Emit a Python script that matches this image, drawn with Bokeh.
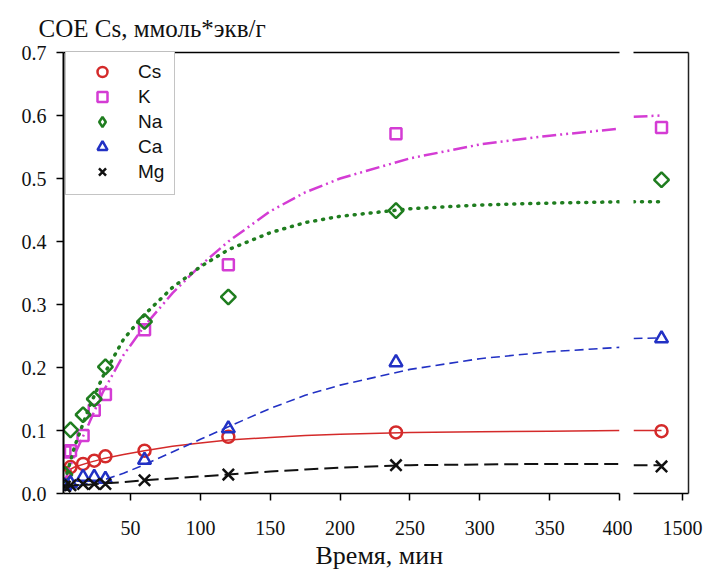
import math
from bokeh.plotting import figure
from bokeh.models import (LinearAxis, FixedTicker, PrintfTickFormatter, Legend,
                          LegendItem, Title, Range1d)
from bokeh.layouts import row
from bokeh.embed import file_html
from bokeh.resources import INLINE

# ---------------- data ----------------
time_min = [3, 7, 16, 24, 32, 60, 120, 240, 1440]
cs = [0.033, 0.042, 0.047, 0.052, 0.059, 0.068, 0.090, 0.097, 0.099]
k  = [0.066, 0.068, 0.092, 0.132, 0.157, 0.260, 0.363, 0.571, 0.581]
na = [0.030, 0.101, 0.125, 0.150, 0.201, 0.273, 0.312, 0.449, 0.498]
ca = [0.012, 0.016, 0.026, 0.026, 0.023, 0.053, 0.103, 0.208, 0.246]
mg = [0.011, 0.013, 0.015, 0.015, 0.015, 0.021, 0.030, 0.045, 0.043]

# fitted curves
fit_t  = [3, 10, 20, 30, 45, 60, 80, 100, 120, 150, 175, 200, 250, 300, 350, 400]
fit_cs = [0.034, 0.042, 0.049, 0.055, 0.062, 0.068, 0.075, 0.080, 0.085, 0.089, 0.092, 0.094, 0.097, 0.098, 0.099, 0.100]
fit_k  = [0.020, 0.062, 0.110, 0.160, 0.220, 0.266, 0.318, 0.362, 0.400, 0.448, 0.478, 0.500, 0.532, 0.554, 0.568, 0.579]
fit_na = [0.020, 0.075, 0.135, 0.185, 0.245, 0.284, 0.327, 0.360, 0.387, 0.414, 0.430, 0.440, 0.452, 0.458, 0.461, 0.463]
fit_ca = [0.010, 0.012, 0.016, 0.021, 0.032, 0.046, 0.066, 0.086, 0.106, 0.135, 0.156, 0.172, 0.197, 0.214, 0.225, 0.232]
fit_mg = [0.012, 0.013, 0.014, 0.016, 0.018, 0.021, 0.024, 0.027, 0.030, 0.035, 0.038, 0.041, 0.045, 0.046, 0.047, 0.047]

tail_t  = [1360, 1440]
tail_cs = [0.100, 0.100]
tail_k  = [0.598, 0.600]
tail_na = [0.463, 0.463]
tail_ca = [0.246, 0.247]
tail_mg = [0.045, 0.045]

x_ticks_main = [50, 100, 150, 200, 250, 300, 350, 400]
x_ticks_tail = [1500]
y_ticks = [0.0, 0.1, 0.2, 0.3, 0.4, 0.5, 0.6, 0.7]

# ---------------- styles ----------------
C_CS, C_K, C_NA, C_CA, C_MG = "#d42a2a", "#d43cd4", "#1f7d1f", "#2231c4", "#111111"
SERIF = "Liberation Serif"
SANS = "Liberation Sans"

# name, values, fit, tail, colour, plot marker, legend marker, line style
series = [
    ("Cs", cs, fit_cs, tail_cs, C_CS, dict(marker="circle", size=12, angle=0), None,
     dict(line_dash="solid", line_width=1.5)),
    ("K", k, fit_k, tail_k, C_K, dict(marker="square", size=11, angle=0), None,
     dict(line_dash="14 4 2 4 2 4", line_width=2.5)),
    ("Na", na, fit_na, tail_na, C_NA, dict(marker="square", size=10.5, angle=math.pi / 4), "diamond",
     dict(line_dash="1 7", line_width=3.5, line_cap="round")),
    ("Ca", ca, fit_ca, tail_ca, C_CA, dict(marker="triangle", size=13, angle=0), None,
     dict(line_dash="9 5", line_width=1.6)),
    ("Mg", mg, fit_mg, tail_mg, C_MG, dict(marker="x", size=16, angle=0), None,
     dict(line_dash="14 6", line_width=2)),
]

main_idx = [i for i, t in enumerate(time_min) if t <= 400]
tail_idx = [i for i, t in enumerate(time_min) if t >= 1360]

y_range = Range1d(0, 0.7)


def base_fig(width, x_range, left, right):
    f = figure(width=width, height=577, x_range=x_range, y_range=y_range,
               output_backend="svg", toolbar_location=None,
               x_axis_location=None, y_axis_location=None,
               min_border_left=left, min_border_right=right,
               min_border_top=52, min_border_bottom=84)
    f.xgrid.visible = False
    f.ygrid.visible = False
    f.outline_line_color = None
    f.background_fill_color = "white"
    f.border_fill_color = "white"
    return f


def style_axis(ax):
    ax.axis_line_color = "black"
    ax.axis_line_width = 1.5
    ax.major_tick_line_color = "black"
    ax.major_tick_line_width = 1.5
    ax.major_tick_in = 0
    ax.major_tick_out = 7
    ax.minor_tick_line_color = None
    ax.major_label_text_font = SERIF
    ax.major_label_text_font_size = "20px"
    ax.major_label_text_color = "#111111"


def blank_axis(color="black"):
    ax = LinearAxis(ticker=FixedTicker(ticks=[]))
    ax.axis_line_color = color
    ax.axis_line_width = 1.5
    ax.major_tick_line_color = None
    ax.minor_tick_line_color = None
    ax.major_label_text_font_size = "0px"
    ax.major_label_standoff = 0
    return ax


# ---------------- left (main) panel ----------------
p1 = base_fig(632, Range1d(2, 400), 63, 13)

xa = LinearAxis(ticker=FixedTicker(ticks=x_ticks_main))
style_axis(xa)
xa.major_label_standoff = 20
p1.add_layout(xa, "below")

ya = LinearAxis(ticker=FixedTicker(ticks=y_ticks), formatter=PrintfTickFormatter(format="%.1f"))
style_axis(ya)
ya.axis_line_width = 2
ya.major_label_standoff = 10
p1.add_layout(ya, "left")

p1.add_layout(blank_axis(), "above")

p1.add_layout(Title(text="СОЕ Cs, ммоль*экв/г", align="left", offset=-25,
                    text_font=SERIF, text_font_size="25px", text_font_style="normal",
                    text_color="#111111", standoff=22), "above")
p1.add_layout(Title(text="Время, мин", align="left", offset=252,
                    text_font=SERIF, text_font_size="26px", text_font_style="normal",
                    text_color="#111111", standoff=3), "below")

legend_items = []
for name, vals, fit, tail, col, mk, leg_mk, lstyle in series:
    p1.line(fit_t, fit, line_color=col, **lstyle)
    xs_main = [time_min[i] for i in main_idx]
    ys_main = [vals[i] for i in main_idx]
    r = p1.scatter(xs_main, ys_main, line_color=col, fill_color=None, line_width=2.5, **mk)
    if leg_mk is not None:
        # hidden copy of the series drawn with the legend's own marker shape
        r = p1.scatter(xs_main, ys_main, marker=leg_mk, line_color=col, fill_color=None,
                       line_width=2.5, visible=False)
    legend_items.append(LegendItem(label=name, renderers=[r]))

legend = Legend(items=legend_items, location=(2, 298), padding=10, spacing=0,
                glyph_width=52, glyph_height=25, label_height=25, label_standoff=10,
                label_text_font=SANS, label_text_font_size="19px",
                label_text_color="#111111",
                border_line_color="#8a8a8a", border_line_width=1,
                background_fill_color="white", background_fill_alpha=1, margin=0,
                inactive_fill_alpha=0, click_policy="none")
p1.add_layout(legend)

# ---------------- right (tail) panel ----------------
p2 = base_fig(75, Range1d(1360, 1517), 1, 19)

xa2 = LinearAxis(ticker=FixedTicker(ticks=x_ticks_tail))
style_axis(xa2)
xa2.major_label_standoff = 20
p2.add_layout(xa2, "below")
p2.add_layout(blank_axis(), "above")
p2.add_layout(blank_axis("#222222"), "right")

for name, vals, fit, tail, col, mk, leg_mk, lstyle in series:
    p2.line(tail_t, tail, line_color=col, **lstyle)
    p2.scatter([time_min[i] for i in tail_idx], [vals[i] for i in tail_idx],
               line_color=col, fill_color=None, line_width=2.5, **mk)

layout = row(p1, p2, spacing=0)
open("out.html", "w").write(file_html(layout, INLINE))
